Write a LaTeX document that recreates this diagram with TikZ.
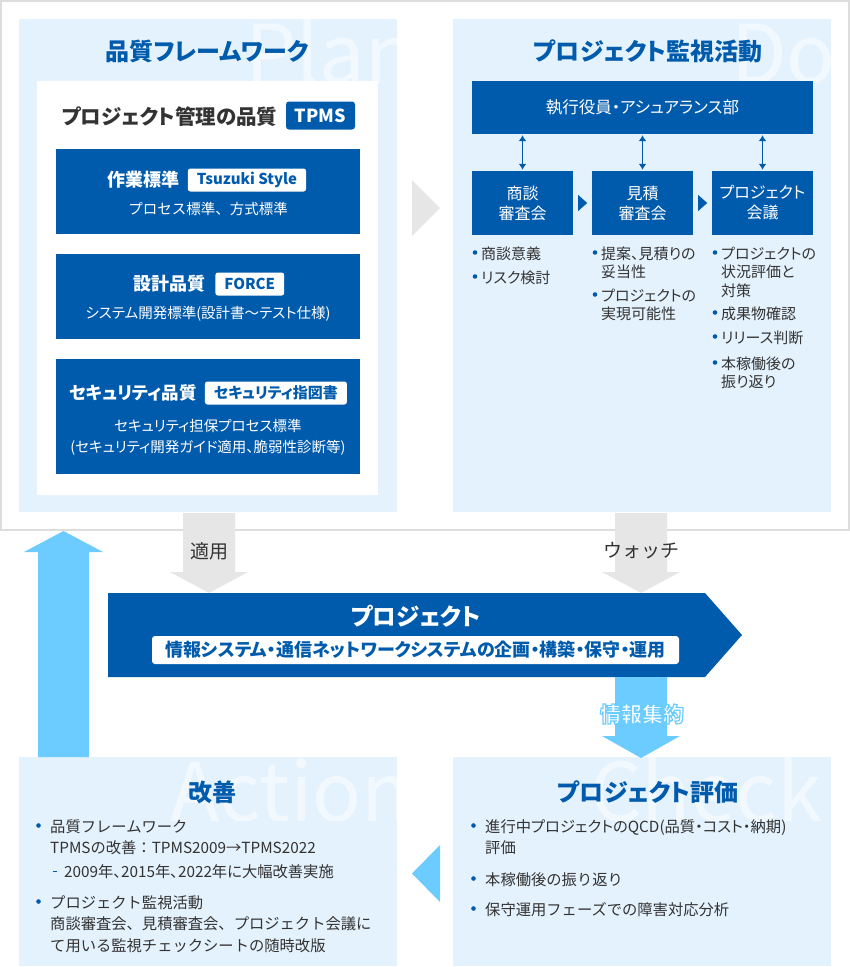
\documentclass[tikz,border=0pt]{standalone}
\usepackage{fontspec}
\setmainfont{Noto Sans CJK JP}[RawFeature=+palt]
\newfontfamily\plainjp{Noto Sans CJK JP}
\usetikzlibrary{positioning,arrows.meta,calc}
\definecolor{qblue}{RGB}{0,91,172}
\definecolor{qpale}{RGB}{228,242,253}
\definecolor{qsky}{RGB}{108,203,255}
\definecolor{qgray}{RGB}{230,230,230}
\definecolor{qframe}{RGB}{221,221,221}
\definecolor{qtext}{RGB}{51,51,51}
\newcommand\fsz[1]{\fontsize{#1}{#1}\selectfont}
% white letters with a thin sky rim
\newcommand\rimtext[1]{\special{pdf:code q 2 Tr 1.2 w 0.42 0.8 1 RG}#1\special{pdf:code Q}}

\begin{document}
\begin{tikzpicture}[x=1pt,y=-1pt,
	panel/.style={fill=qpale, inner sep=0pt, minimum width=378pt},
	bluebox/.style={fill=qblue, text=white, inner sep=0pt},
	title/.style={text=qblue, font=\bfseries\fsz{24}, inner sep=0pt},
	wmark/.style={text=white, text opacity=0.55, font=\fsz{81}, inner sep=0pt, anchor=base west},
	head/.style={text=white, font=\bfseries\fsz{18}, inner sep=0pt},
	badge/.style={fill=white, text=qblue, font=\bfseries\fsz{15}, rounded corners=2.5pt, inner xsep=9pt, inner ysep=0pt, minimum height=23pt},
	sub/.style={text=white, font=\fontsize{14.5}{21}\selectfont, align=center, inner sep=0pt},
	item/.style={text=qtext, font=\fontsize{15}{18.5}\selectfont, align=left, inner sep=0pt, anchor=base west},
	wide/.style={item, font=\plainjp\fontsize{15.3}{21.5}\selectfont},
	tight/.style={item, font=\fontsize{15.3}{21.5}\selectfont},
	flow/.style={text=qtext, font=\plainjp\fsz{19}, inner sep=0pt},
	dbl/.style={{Latex[length=6pt,width=8pt]}-{Latex[length=6pt,width=8pt]}, qblue, line width=1.8pt}]
\useasboundingbox (0,0) rectangle (850,967);
%Frame:
\draw[qframe, line width=2pt] (1,1) rectangle (849,530);
%Panels:
\path
	(208,265.5) node[panel, minimum height=493pt] (plan) {}
	(642,265.5) node[panel, minimum height=493pt] (do) {}
	(208,861.5) node[panel, minimum height=209pt] (act) {}
	(642,861.5) node[panel, minimum height=209pt] (chk) {};
%Watermarks:
\foreach \p/\w/\x in {plan/Plan/245, do/Do/731, act/Action/170, chk/Check/590}{
	\begin{scope}
		\clip (\p.north west) rectangle ($(\p.north east)+(0,64)$);
		\node[wmark] (wm\p) at ($(\x,0)+(0,0|-\p.north)+(0,65)$) {\w};
	\end{scope}
}
%Titles:
\path
	(207,51) node[title] (plantitle) {品質フレームワーク}
	(648,51) node[title] (dotitle) {プロジェクト監視活動}
	(212,792) node[title] (acttitle) {改善}
	(648,792) node[title] (chktitle) {プロジェクト評価};

%Plan: quality framework
\node[fill=white, minimum width=341pt, minimum height=414pt, inner sep=0pt] (sheet) at (207.5,288) {};
\node[text=qtext, font=\bfseries\fsz{20.5}, inner sep=0pt] (tpmshead) at (169.5,117) {プロジェクト管理の品質};
\node[fill=qblue, text=white, font=\bfseries\fsz{18}, rounded corners=3pt, minimum width=69pt, minimum height=28pt, inner sep=0pt] (tpms) at (320.5,115.5) {TPMS};

\node[bluebox, minimum width=304pt, minimum height=85pt] (work) at (208,191.5) {};
\node[head] (workhead) at (143.5,180) {作業標準};
\node[badge, right=8pt of workhead] (tsuzuki) {Tsuzuki Style};
\node[sub, font=\plainjp\fsz{14.5}] (worksub) at (208,209) {プロセス標準、方式標準};

\node[bluebox, minimum width=304pt, minimum height=85pt] (design) at (208,296.5) {};
\node[head] (designhead) at (169,284) {設計品質};
\node[badge, right=10pt of designhead] (force) {FORCE};
\node[sub] (designsub) at (208,314) {システム開発標準(設計書～テスト仕様)};

\node[bluebox, minimum width=304pt, minimum height=115pt] (secure) at (208,416.5) {};
\node[head, font=\bfseries\fsz{17.5}] (securehead) at (133,393) {セキュリティ品質};
\node[badge, right=8pt of securehead] (shizu) {セキュリティ指図書};
\node[sub] (securesub) at (208,437.5) {セキュリティ担保プロセス標準\\(セキュリティ開発ガイド適用、脆弱性診断等)};

%Plan to Do:
\fill[qgray] (412,180) -- (440,208) -- (412,236) -- cycle;

%Do: monitoring
\node[bluebox, minimum width=341pt, minimum height=53pt, font=\fsz{16.5}] (exec) at (642.5,107.5) {執行役員・アシュアランス部};
\path
	(522.5,203) node[bluebox, minimum width=101pt, minimum height=64pt, font=\fontsize{16}{20}\selectfont, align=center] (sdan) {商談\\審査会}
	(642.5,203) node[bluebox, minimum width=101pt, minimum height=64pt, font=\fontsize{16}{20}\selectfont, align=center] (mitsu) {見積\\審査会}
	(762.5,203) node[bluebox, minimum width=101pt, minimum height=64pt, font=\fontsize{16}{20}\selectfont, align=center] (pjmeet) {プロジェクト\\会議};
\foreach \n in {sdan,mitsu,pjmeet}
	\draw[dbl] ($(\n.north)+(0,-1)$) -- ($(\n.north |- exec.south)+(0,1)$);
\foreach \n in {sdan,mitsu}
	\fill[qblue] ($(\n.east)+(5,-8)$) -- ++(9,8) -- ++(-9,8) -- cycle;
\path
	(481,259) node[item] (dob1) {商談意義}
	(481,283) node[item] (dob2) {リスク検討}
	(601,277.5) node[item] (dob3) {提案、見積りの\\妥当性}
	(601,319.5) node[item] (dob4) {プロジェクトの\\実現可能性}
	(721,296) node[item] (dob5) {プロジェクトの\\状況評価と\\対策}
	(721,319) node[item] (dob6) {成果物確認}
	(721,343) node[item] (dob7) {リリース判断}
	(721,387.5) node[item] (dob8) {本稼働後の\\振り返り};
\foreach \n/\k in {dob1/1,dob2/1,dob3/2,dob4/2,dob5/3,dob6/1,dob7/1,dob8/2}
	\fill[qblue] ($(\n.base west)+(-6,{-6.5-18.5*(\k-1)})$) circle (2.3pt);

%Apply and watch:
\fill[qgray] (183,513) -- (235,513) -- (235,572) -- (248,572) -- (209,593) -- (170,572) -- (183,572) -- cycle;
\fill[qgray] (615,513) -- (667,513) -- (667,572) -- (680,572) -- (641,593) -- (602,572) -- (615,572) -- cycle;
\node[flow] (apply) at (209,551) {適用};
\node[flow] (watch) at (641,551) {ウォッチ};

%Project arrow:
\fill[qblue] (108,593) -- (705,593) -- (742,635) -- (705,677) -- (108,677) -- cycle;
\node[text=white, font=\bfseries\fsz{23.5}] (proj) at (416,616) {プロジェクト};
\node[fill=white, rounded corners=3pt, minimum width=527pt, minimum height=28pt, inner sep=0pt, text=qblue, font=\bfseries\fsz{18}] (projscope) at (415.5,650) {情報システム・通信ネットワークシステムの企画・構築・保守・運用};

%Check and action arrows:
\fill[qsky] (615,677) -- (667,677) -- (667,736) -- (680,736) -- (641,758) -- (602,736) -- (615,736) -- cycle;
\node[text=white, font=\bfseries\fsz{21}] (gather) at (642,714) {\rimtext{情報集約}};
\fill[qsky] (440,845) -- (412,873.5) -- (440,902) -- cycle;
\fill[qsky] (38,757) -- (38,552) -- (24,552) -- (63.5,531) -- (103,552) -- (89,552) -- (89,757) -- cycle;

%Action: improvement
\path
	(50,853.5) node[wide] (acb1) {品質フレームワーク\\TPMSの改善：TPMS2009→TPMS2022}
	(64,877) node[tight] (acdash) {2009年、2015年、2022年に大幅改善実施}
	(50,951) node[wide] (acb2) {プロジェクト監視活動\\商談審査会、見積審査会、プロジェクト会議に\\て用いる監視チェックシートの随時改版};
\draw[qblue, line width=1pt] ($(acdash.base west)+(-11.5,-6)$) -- ++(4,0);

%Check: evaluation
\path
	(485,853.5) node[tight] (chb1) {進行中プロジェクトのQCD(品質・コスト・納期)\\評価}
	(485,885) node[wide] (chb2) {本稼働後の振り返り}
	(485,915) node[wide] (chb3) {保守運用フェーズでの障害対応分析};
\foreach \n/\k in {acb1/2,acb2/3,chb1/2,chb2/1,chb3/1}
	\fill[qblue] ($(\n.base west)+(-11.5,{-6.5-21.5*(\k-1)})$) circle (2.3pt);
\end{tikzpicture}
\end{document}
